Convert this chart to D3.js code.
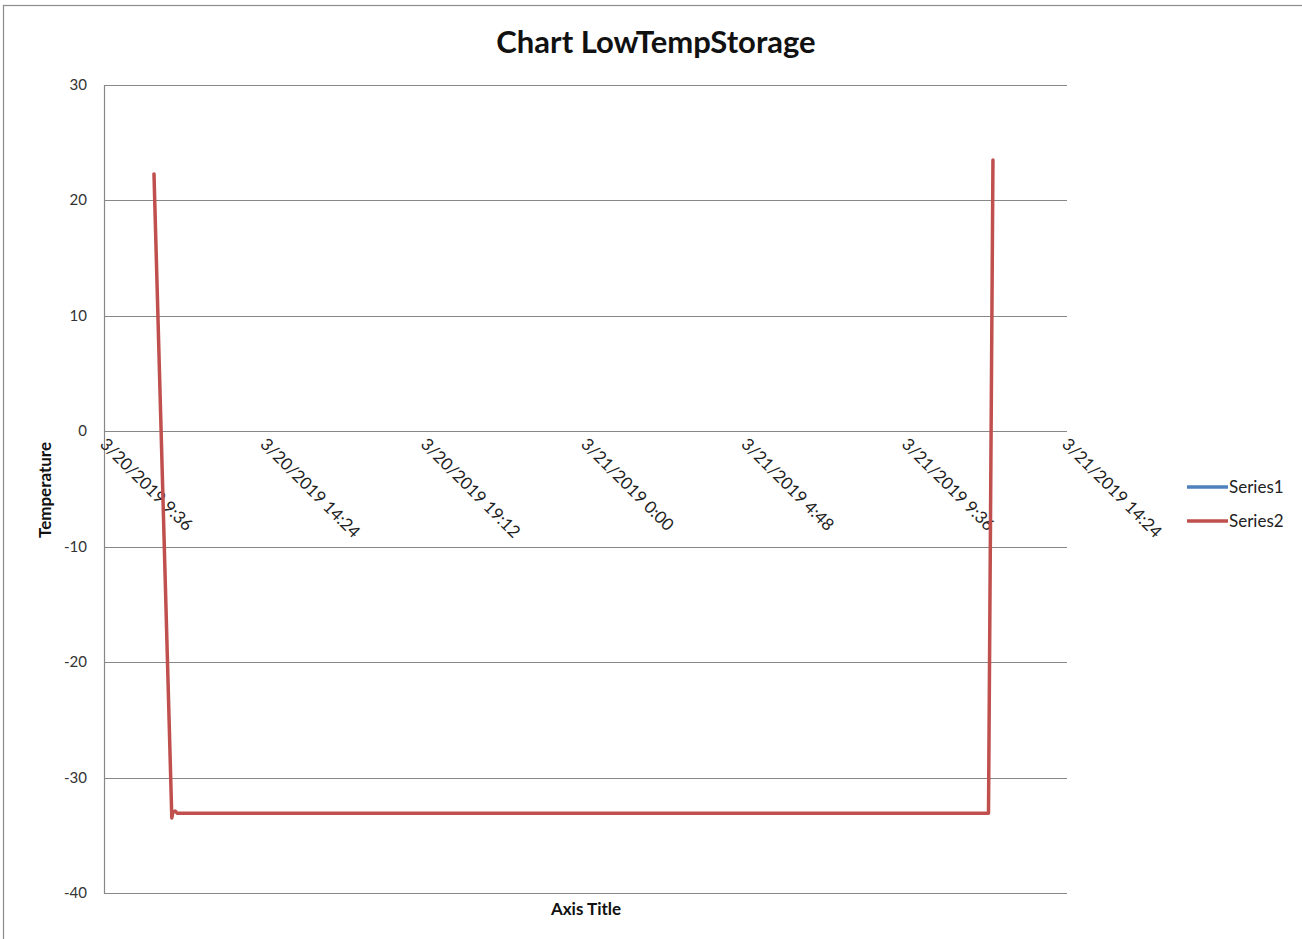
<!DOCTYPE html>
<html><head><meta charset="utf-8">
<script src="https://cdn.jsdelivr.net/npm/d3@7"></script>
<style>body{margin:0;background:#fff}svg{display:block}text{font-family:Lato,"Open Sans",sans-serif}</style>
</head><body>
<script>
const chartTitle = "Chart LowTempStorage";
const yTitle = "Temperature";
const xTitle = "Axis Title";
const seriesNames = ["Series1", "Series2"];
const seriesColors = ["#4f81bd", "#c0504d"];
const series1Times = [];
const series1Values = [];
const series2Times = ["2019-03-20T11:04", "2019-03-20T11:36", "2019-03-20T11:38", "2019-03-20T11:42", "2019-03-20T11:46", "2019-03-21T12:03", "2019-03-21T12:11"];
const series2Values = [22.3, -33.5, -33.0, -32.9, -33.1, -33.1, 23.5];
const xTickLabels = ["3/20/2019 9:36", "3/20/2019 14:24", "3/20/2019 19:12", "3/21/2019 0:00", "3/21/2019 4:48", "3/21/2019 9:36", "3/21/2019 14:24"];
const xTickTimes = ["2019-03-20T09:36", "2019-03-20T14:24", "2019-03-20T19:12", "2019-03-21T00:00", "2019-03-21T04:48", "2019-03-21T09:36", "2019-03-21T14:24"];
const yTicks = [30, 20, 10, 0, -10, -20, -30, -40];

const W = 1302, H = 939;
const parse = d3.timeParse("%Y-%m-%dT%H:%M");
const svg = d3.select("body").append("svg").attr("width", W).attr("height", H);

svg.append("rect").attr("x", 3.5).attr("y", 5.5).attr("width", 1400).attr("height", 1000)
  .attr("fill", "none").attr("stroke", "#8c8c8c").attr("stroke-width", 1.2);

const x = d3.scaleTime().domain([parse(xTickTimes[0]), parse(xTickTimes[xTickTimes.length - 1])]).range([105, 1067]);
const y = d3.scaleLinear().domain([-40, 30]).range([893, 85]);

// gridlines
svg.append("g").selectAll("line").data(yTicks).join("line")
  .attr("x1", 105).attr("x2", 1067)
  .attr("y1", d => Math.round(y(d)) + 0.5).attr("y2", d => Math.round(y(d)) + 0.5)
  .attr("stroke", "#878787").attr("stroke-width", 1.2);
// y axis line
svg.append("line").attr("x1", 104.5).attr("x2", 104.5).attr("y1", 85).attr("y2", 894)
  .attr("stroke", "#878787").attr("stroke-width", 1.2);

// y tick labels
svg.append("g").selectAll("text").data(yTicks).join("text")
  .attr("x", 87).attr("y", d => y(d) + 5).attr("text-anchor", "end")
  .attr("font-size", 15).attr("fill", "#333").text(d => d);

// x tick labels rotated
const y0 = y(0);
svg.append("g").selectAll("text").data(xTickTimes).join("text")
  .attr("transform", d => `translate(${x(parse(d)) - 6},${y0 + 14}) rotate(45)`)
  .attr("font-size", 17).attr("fill", "#222")
  .text((d, i) => xTickLabels[i]);

// lines
const line = d3.line().x(d => x(d[0])).y(d => y(d[1]));
const s1 = series1Times.map((t, i) => [parse(t), series1Values[i]]);
const s2 = series2Times.map((t, i) => [parse(t), series2Values[i]]);
svg.append("path").datum(s1).attr("d", line).attr("fill", "none")
  .attr("stroke", seriesColors[0]).attr("stroke-width", 3.5);
svg.append("path").datum(s2).attr("d", line).attr("fill", "none")
  .attr("stroke", seriesColors[1]).attr("stroke-width", 3.5)
  .attr("stroke-linejoin", "round").attr("stroke-linecap", "round");

// title
svg.append("text").attr("x", 656).attr("y", 53).attr("text-anchor", "middle")
  .attr("font-size", 31).attr("font-weight", "bold").attr("fill", "#111").text(chartTitle);
// axis titles
svg.append("text").attr("transform", "translate(51,490) rotate(-90)").attr("text-anchor", "middle")
  .attr("font-size", 17).attr("font-weight", "bold").attr("fill", "#111").text(yTitle);
svg.append("text").attr("x", 586).attr("y", 915).attr("text-anchor", "middle")
  .attr("font-size", 17).attr("font-weight", "bold").attr("fill", "#111").text(xTitle);

// legend
const lg = svg.append("g").selectAll("g").data(seriesNames).join("g")
  .attr("transform", (d, i) => `translate(1187,${487 + i * 34})`);
lg.append("line").attr("x1", 0).attr("x2", 41).attr("y1", 0).attr("y2", 0)
  .attr("stroke", (d, i) => seriesColors[i]).attr("stroke-width", 3.5);
lg.append("text").attr("x", 42).attr("y", 6).attr("font-size", 17).attr("fill", "#222").text(d => d);
</script>
</body></html>
